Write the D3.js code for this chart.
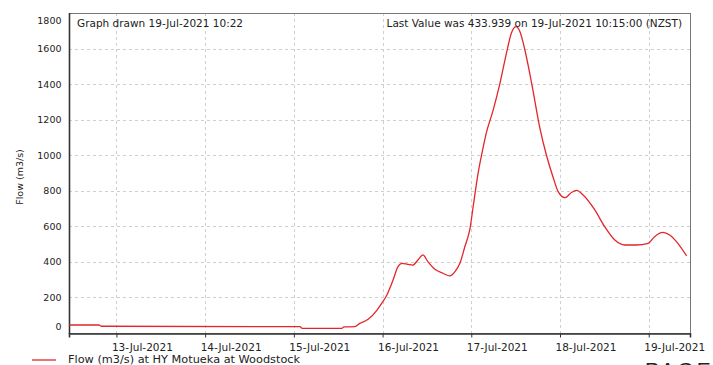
<!DOCTYPE html>
<html>
<head>
<meta charset="utf-8">
<script src="https://cdn.jsdelivr.net/npm/d3@7"></script>
<style>
  html, body { margin: 0; padding: 0; background: #fff; }
  svg { display: block; }
  text { font-family: "DejaVu Sans", Verdana, sans-serif; fill: #222; }
</style>
</head>
<body>
<svg id="chart" width="713" height="365"></svg>
<script>
// Flow record, HY Motueka at Woodstock (m3/s), NZST
const flowTimes = [
  "2021-07-12 11:15", "2021-07-12 19:20", "2021-07-12 19:50", "2021-07-14 20:15",
  "2021-07-15 01:40", "2021-07-15 02:15", "2021-07-15 13:00", "2021-07-15 13:30",
  "2021-07-15 16:30", "2021-07-15 17:50", "2021-07-15 20:05", "2021-07-15 22:30",
  "2021-07-15 23:50", "2021-07-16 01:10", "2021-07-16 02:50", "2021-07-16 04:10",
  "2021-07-16 05:15", "2021-07-16 06:50", "2021-07-16 08:10", "2021-07-16 09:35",
  "2021-07-16 10:55", "2021-07-16 12:15", "2021-07-16 14:10", "2021-07-16 16:20",
  "2021-07-16 18:10", "2021-07-16 19:35", "2021-07-16 20:55", "2021-07-16 22:15",
  "2021-07-16 23:40", "2021-07-17 00:30", "2021-07-17 01:50", "2021-07-17 03:15",
  "2021-07-17 04:00", "2021-07-17 05:55", "2021-07-17 07:45", "2021-07-17 09:30",
  "2021-07-17 10:50", "2021-07-17 12:05", "2021-07-17 13:10", "2021-07-17 14:30",
  "2021-07-17 16:20", "2021-07-17 18:35", "2021-07-17 20:20", "2021-07-17 22:05",
  "2021-07-17 23:30", "2021-07-18 01:20", "2021-07-18 03:05", "2021-07-18 04:30",
  "2021-07-18 06:15", "2021-07-18 09:25", "2021-07-18 12:05", "2021-07-18 14:50",
  "2021-07-18 17:30", "2021-07-18 20:40", "2021-07-18 23:50", "2021-07-19 01:35",
  "2021-07-19 03:50", "2021-07-19 05:40", "2021-07-19 07:30", "2021-07-19 10:15"
];
const flowValues = [
  45, 45, 38, 36,
  36, 26, 26, 34,
  36, 54, 77, 129,
  169, 214, 298, 373,
  392, 386, 382, 411,
  439, 401, 358, 336,
  321, 345, 392, 485,
  590, 710, 898, 1048,
  1120, 1254, 1404, 1573,
  1686, 1723, 1695, 1592,
  1404, 1150, 1000, 879,
  795, 761, 790, 802,
  776, 692, 598, 523,
  495, 495, 504, 542,
  566, 551, 514, 433.939
];
const yTickValues = [0, 200, 400, 600, 800, 1000, 1200, 1400, 1600, 1800];
const xTickDays = ["2021-07-13", "2021-07-14", "2021-07-15", "2021-07-16", "2021-07-17", "2021-07-18", "2021-07-19"];
const timeWindow = ["2021-07-12 11:10", "2021-07-19 11:10"];
const headerLeft = "Graph drawn 19-Jul-2021 10:22";
const headerRight = "Last Value was 433.939 on 19-Jul-2021 10:15:00 (NZST)";
const yTitle = "Flow (m3/s)";
const seriesName = "Flow (m3/s) at HY Motueka at Woodstock";

const parseTime = d3.timeParse("%Y-%m-%d %H:%M");
const parseDay = d3.timeParse("%Y-%m-%d");
const fmtDay = d3.timeFormat("%d-%b-%Y");

const data = flowTimes.map((t, i) => ({ t: parseTime(t), v: flowValues[i] }));

const svg = d3.select("#chart");
const m = { left: 69, right: 690, top: 13, bottom: 333 };
const lineColor = "#e3262b";

const x = d3.scaleTime().domain(timeWindow.map(parseTime)).range([m.left, m.right]);
const y = d3.scaleLinear().domain([0, 1800]).range([m.bottom, m.top]);

// Grid
const grid = svg.append("g").attr("stroke", "#cfcfcf").attr("stroke-dasharray", "3,3").attr("stroke-width", 1);
grid.selectAll("line.h").data(yTickValues.filter(v => v > 0 && v < 1800)).join("line")
  .attr("x1", m.left).attr("x2", m.right)
  .attr("y1", d => Math.round(y(d)) + 0.5).attr("y2", d => Math.round(y(d)) + 0.5);
grid.selectAll("line.v").data(xTickDays.map(parseDay)).join("line")
  .attr("x1", d => Math.round(x(d)) + 0.5).attr("x2", d => Math.round(x(d)) + 0.5)
  .attr("y1", m.top).attr("y2", m.bottom);

// Frame
svg.append("rect").attr("x", m.left + 0.5).attr("y", m.top + 0.5)
  .attr("width", m.right - m.left).attr("height", m.bottom - m.top)
  .attr("fill", "none").attr("stroke", "#777").attr("stroke-width", 1);

// Bottom axis
const xAxis = d3.axisBottom(x).tickValues(xTickDays.map(parseDay)).tickSize(4).tickFormat(() => "");
const gx = svg.append("g").attr("transform", `translate(0,${m.bottom + 0.5})`).call(xAxis);
gx.select(".domain").attr("stroke", "#333").attr("stroke-width", 1.6);
gx.selectAll(".tick line").attr("stroke", "#333");
gx.selectAll(".tick").append("text")
  .attr("x", -5).attr("y", 17)
  .attr("text-anchor", "start")
  .style("font-size", "10.5px")
  .attr("fill", "#222")
  .text(d => fmtDay(d));

// Left axis: labels at the extremes are kept inside the frame
const gy = svg.append("g").attr("transform", `translate(${m.left + 0.5},0)`);
gy.append("line").attr("y1", m.top).attr("y2", m.bottom + 1).attr("stroke", "#333").attr("stroke-width", 1.6);
gy.selectAll("text").data(yTickValues).join("text")
  .attr("x", -8)
  .attr("y", d => Math.min(Math.max(y(d), m.top + 7), m.bottom - 7) + 3.5)
  .attr("text-anchor", "end")
  .style("font-size", "9.5px")
  .text(d => d);

// Axis title
svg.append("text")
  .attr("transform", `translate(23,${(m.top + m.bottom) / 2 + 4}) rotate(-90)`)
  .attr("text-anchor", "middle")
  .style("font-size", "9.5px")
  .text(yTitle);

// Series
const line = d3.line().x(d => x(d.t)).y(d => y(d.v)).curve(d3.curveMonotoneX);
svg.append("path").datum(data)
  .attr("fill", "none").attr("stroke", lineColor).attr("stroke-width", 1.3)
  .attr("d", line);

// Header notes
svg.append("text").attr("x", 77).attr("y", 27).style("font-size", "10.5px").text(headerLeft);
svg.append("text").attr("x", 682).attr("y", 27).attr("text-anchor", "end").style("font-size", "10.5px").text(headerRight);

// Legend
svg.append("line").attr("x1", 32).attr("x2", 56).attr("y1", 360).attr("y2", 360)
  .attr("stroke", lineColor).attr("stroke-width", 1.3);
svg.append("text").attr("x", 68).attr("y", 362.5).style("font-size", "11.3px").text(seriesName);

// Page mark at the bottom edge
svg.append("text").attr("x", 645).attr("y", 377)
  .style("font-family", "'Liberation Sans', Arial, sans-serif")
  .style("font-size", "21px").style("letter-spacing", "3px")
  .attr("fill", "#333").text("PAGE");
</script>
</body>
</html>
